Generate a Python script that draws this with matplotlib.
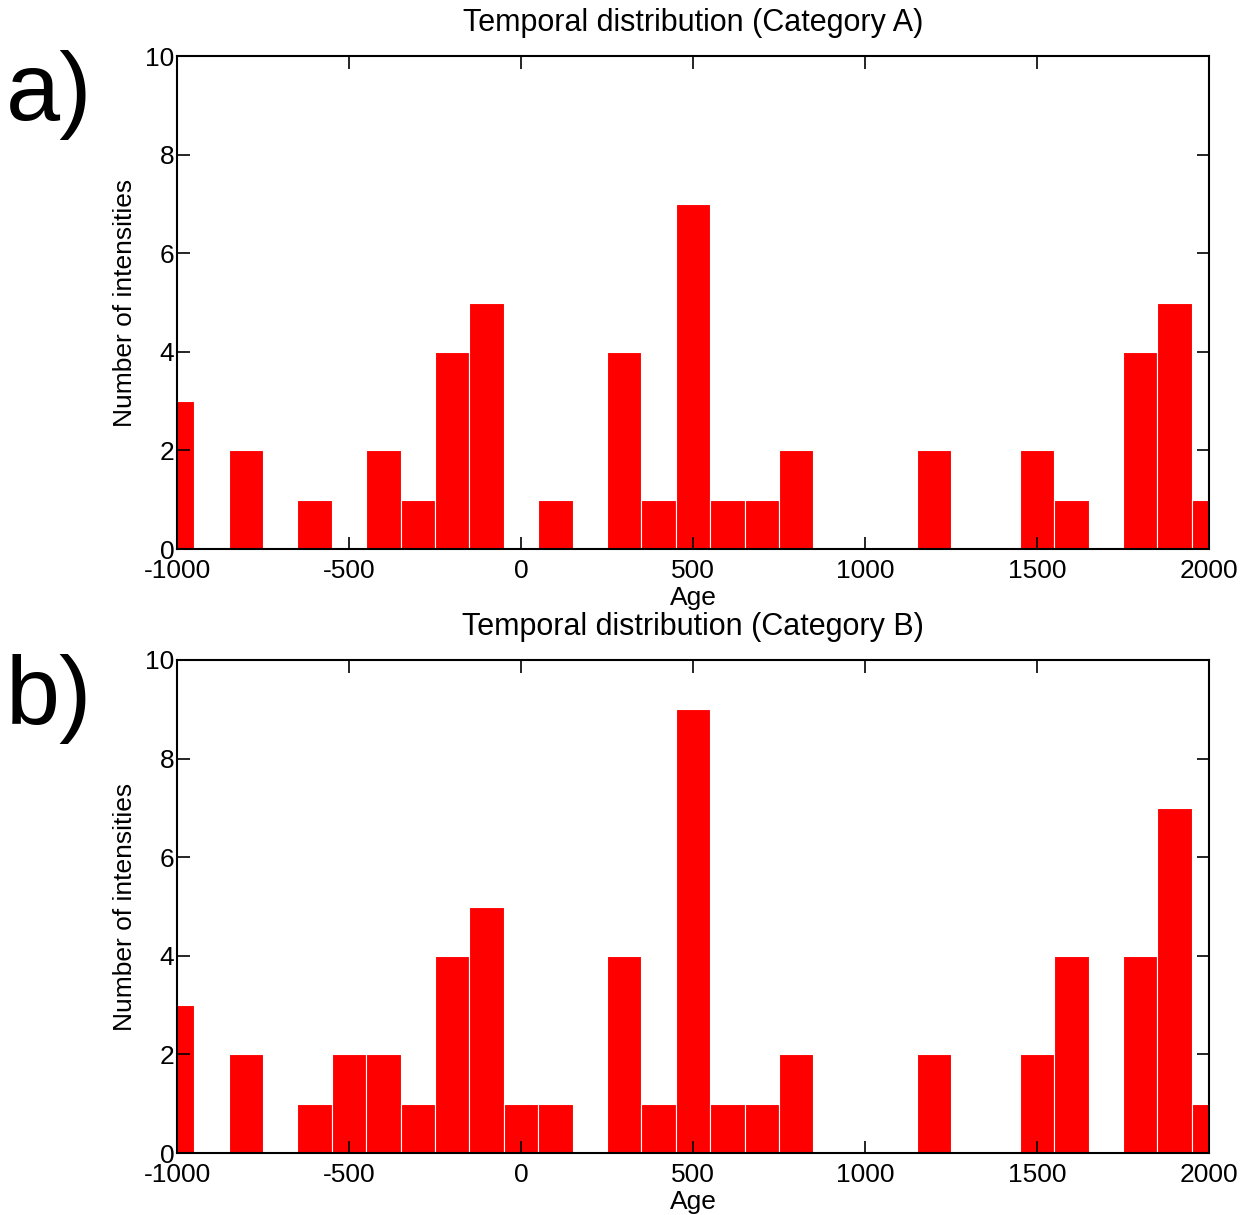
import matplotlib
matplotlib.use("Agg")
import matplotlib.pyplot as plt
import numpy as np

plt.rcParams['font.family'] = ['Liberation Sans', 'DejaVu Sans']
plt.rcParams['axes.unicode_minus'] = False

# bin centres (100-year bins) and counts per category
centers = np.arange(-1000, 2001, 100)
count_a = [3, 0, 2, 0, 1, 0, 2, 1, 4, 5, 0, 1, 0, 4, 1, 7,
           1, 1, 2, 0, 0, 0, 2, 0, 0, 2, 1, 0, 4, 5, 1]
count_b = [3, 0, 2, 0, 1, 2, 2, 1, 4, 5, 1, 1, 0, 4, 1, 9,
           1, 1, 2, 0, 0, 0, 2, 0, 0, 2, 4, 0, 4, 7, 1]
titles = ['Temporal distribution (Category A)', 'Temporal distribution (Category B)']
panel_tags = ['a)', 'b)']
xticks = [-1000, -500, 0, 500, 1000, 1500, 2000]
yticks = [0, 2, 4, 6, 8, 10]

fig = plt.figure(figsize=(12.44, 12.15), dpi=100)
left, width, height = 0.1423, 0.8296, 0.4058
bottoms = [0.5481, 0.0510]

for counts, title, tag, bottom in zip([count_a, count_b], titles, panel_tags, bottoms):
    ax = fig.add_axes([left, bottom, width, height])
    ax.bar(centers, counts, width=100, color='#ff0000', edgecolor='white', linewidth=0.8)
    ax.set_xlim(-1000, 2000)
    ax.set_ylim(0, 10)
    ax.set_xticks(xticks)
    ax.set_yticks(yticks)
    ax.tick_params(direction='in', length=9, width=1.2, top=True, right=True,
                   labelsize=19, pad=2)
    ax.tick_params(axis='x', pad=7)
    for s in ax.spines.values():
        s.set_linewidth(1.5)
    ax.set_title(title, fontsize=22, pad=18)
    ax.set_xlabel('Age', fontsize=19, labelpad=2)
    ax.set_ylabel('Number of intensities', fontsize=19, labelpad=6)
    fig.text(0.005, bottom + height + 0.005, tag, fontsize=70, ha='left', va='top')

fig.savefig('out.png', dpi=100)
